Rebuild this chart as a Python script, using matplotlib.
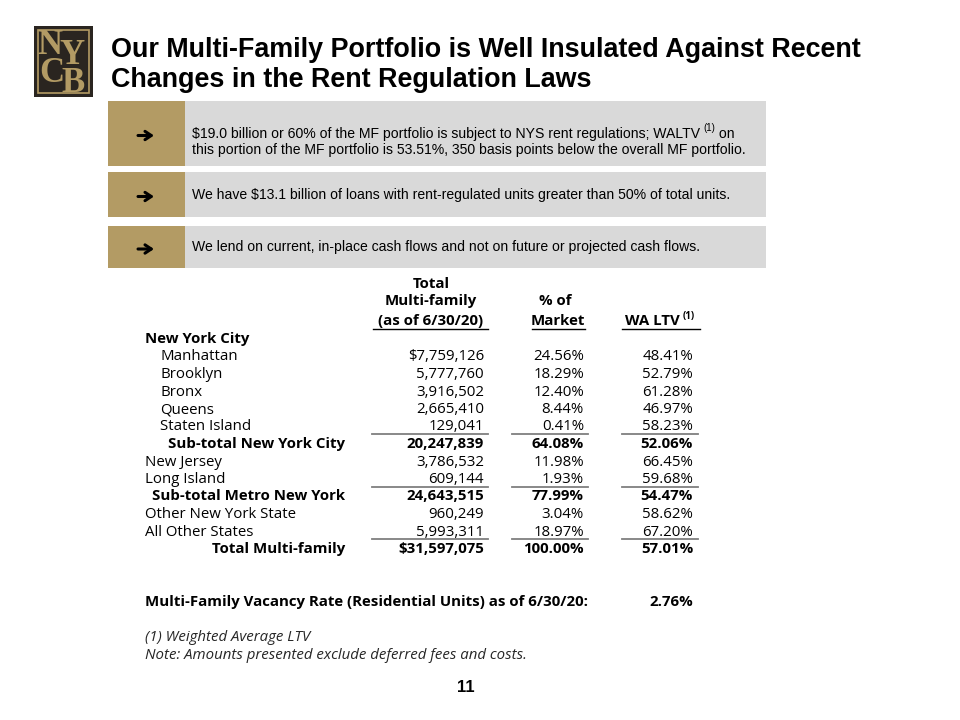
import matplotlib
matplotlib.use("Agg")
from matplotlib import pyplot as plt
from matplotlib.patches import Rectangle

# ---- data ----
bullets = [
    "We have $13.1 billion of loans with rent-regulated units greater than 50% of total units.",
    "We lend on current, in-place cash flows and not on future or projected cash flows.",
]
bullet1_a = "$19.0 billion or 60% of the MF portfolio is subject to NYS rent regulations; WALTV"
bullet1_b = "this portion of the MF portfolio is 53.51%, 350 basis points below the overall MF portfolio."

regions = ["New York City", "Manhattan", "Brooklyn", "Bronx", "Queens", "Staten Island",
           "Sub-total New York City", "New Jersey", "Long Island", "Sub-total Metro New York",
           "Other New York State", "All Other States", "Total Multi-family"]
amounts = [None, 7759126, 5777760, 3916502, 2665410, 129041,
           20247839, 3786532, 609144, 24643515, 960249, 5993311, 31597075]
pct_market = [None, 24.56, 18.29, 12.40, 8.44, 0.41,
              64.08, 11.98, 1.93, 77.99, 3.04, 18.97, 100.00]
wa_ltv = [None, 48.41, 52.79, 61.28, 46.97, 58.23,
          52.06, 66.45, 59.68, 54.47, 58.62, 67.20, 57.01]
# row kind: h = heading, i = indented, s = subtotal, n = normal
row_kind = ["h", "i", "i", "i", "i", "i", "s", "n", "n", "s", "n", "n", "s"]
dollar_rows = ["Manhattan", "Total Multi-family"]
vacancy_rate = 2.76

gold = "#B39B64"
grey = "#D9D9D9"
dark = "#2A2520"
tf = "Open Sans"
af = "Liberation Sans"

fig = plt.figure(figsize=(9.6, 7.2), dpi=100)
ax = fig.add_axes([0, 0, 1, 1])
ax.set_xlim(0, 960)
ax.set_ylim(720, 0)
ax.axis("off")

# logo
ax.add_patch(Rectangle((34, 26), 59, 71, facecolor=dark, edgecolor="none"))
ax.add_patch(Rectangle((38, 30), 51, 63, facecolor="none", edgecolor=gold, lw=1.2))
for ch, (lx, ly) in zip("NYCB", [(50, 45), (72, 56), (52, 73), (73, 84)]):
    ax.text(lx, ly, ch, fontsize=25, family="Liberation Serif", fontweight="bold",
            color=gold, ha="center", va="center")

# title
ax.text(111, 50, "Our Multi-Family Portfolio is Well Insulated Against Recent",
        fontsize=19.4, fontweight="bold", family=af, va="center")
ax.text(111, 80, "Changes in the Rent Regulation Laws",
        fontsize=19.4, fontweight="bold", family=af, va="center")

# bullet boxes
boxes = [(101, 166), (172, 217), (226, 268)]
for top, bot in boxes:
    ax.add_patch(Rectangle((108, top), 77, bot - top, facecolor=gold, edgecolor="none"))
    ax.add_patch(Rectangle((185, top), 581, bot - top, facecolor=grey, edgecolor="none"))
    ay = (top + bot) / 2 + 2
    ax.annotate("", xy=(154, ay), xytext=(138, ay),
                arrowprops=dict(arrowstyle="->,head_length=0.45,head_width=0.3",
                                lw=2.2, color="black", shrinkA=0, shrinkB=0))

bfs = 10.1
t1 = ax.text(192, 141, bullet1_a, fontsize=bfs, family=af, va="bottom")
sup = ax.annotate("(1)", xy=(1, 0.55), xycoords=t1, xytext=(2, 0), textcoords="offset points",
                  fontsize=7, family=af, va="bottom")
ax.annotate(" on", xy=(1, 0), xycoords=(sup, t1), fontsize=bfs, family=af, va="bottom")
ax.text(192, 150, bullet1_b, fontsize=bfs, family=af, va="center")
for (top, bot), txt in zip(boxes[1:], bullets):
    ax.text(192, (top + bot) / 2, txt, fontsize=bfs, family=af, va="center")

# table header
fs = 10.8
off = 5  # baseline below row centre
c1, c2, c3 = 484, 584, 693
ax.text(431, 283 + off, "Total", fontsize=fs, family=tf, fontweight="bold", ha="center", va="baseline")
ax.text(431, 300 + off, "Multi-family", fontsize=fs, family=tf, fontweight="bold", ha="center", va="baseline")
ax.text(431, 320 + off, "(as of 6/30/20)", fontsize=fs, family=tf, fontweight="bold", ha="center", va="baseline")
ax.text(555, 300 + off, "% of", fontsize=fs, family=tf, fontweight="bold", ha="center", va="baseline")
ax.text(558, 320 + off, "Market", fontsize=fs, family=tf, fontweight="bold", ha="center", va="baseline")
wl = ax.text(c3 - 13, 320 + off, "WA LTV", fontsize=fs, family=tf, fontweight="bold", ha="right", va="baseline")
ax.annotate("(1)", xy=(1, 0.8), xycoords=wl, xytext=(2, 0), textcoords="offset points",
            fontsize=7, family=tf, fontweight="bold", va="center")
for x0, x1 in [(373, 488), (532, 585), (622, 700)]:
    ax.plot([x0, x1], [328.5, 328.5], color="black", lw=1)

# table body
y0, dy = 338, 17.5
for i, name in enumerate(regions):
    y = y0 + i * dy + off
    kind = row_kind[i]
    bold = "bold" if kind in ("h", "s") else "normal"
    if kind == "s":
        ax.text(345, y, name, fontsize=fs, family=tf, fontweight=bold, ha="right", va="baseline")
    else:
        x = 160 if kind == "i" else 145
        ax.text(x, y, name, fontsize=fs, family=tf, fontweight=bold, ha="left", va="baseline")
    if amounts[i] is None:
        continue
    amt = "{:,}".format(amounts[i])
    if name in dollar_rows:
        amt = "$" + amt
    ax.text(c1, y, amt, fontsize=fs, family=tf, fontweight=bold, ha="right", va="baseline")
    ax.text(c2, y, "{:.2f}%".format(pct_market[i]), fontsize=fs, family=tf, fontweight=bold,
            ha="right", va="baseline")
    ax.text(c3, y, "{:.2f}%".format(wa_ltv[i]), fontsize=fs, family=tf, fontweight=bold,
            ha="right", va="baseline")
    if i + 1 < len(regions) and row_kind[i + 1] == "s":
        ly = y0 + i * dy + dy / 2
        for x0, x1 in [(372, 488), (512, 588), (622, 698)]:
            ax.plot([x0, x1], [ly, ly], color="#7F7F7F", lw=1.3)

# vacancy rate
ax.text(145, 601 + off, "Multi-Family Vacancy Rate (Residential Units) as of 6/30/20:", fontsize=fs,
        family=tf, fontweight="bold", va="baseline")
ax.text(c3, 601 + off, "{:.2f}%".format(vacancy_rate), fontsize=fs, family=tf, fontweight="bold",
        ha="right", va="baseline")

# footnotes
ax.text(145, 636 + off, "(1) Weighted Average LTV", fontsize=fs, family=tf, style="italic",
        color="#262626", va="baseline")
ax.text(145, 654 + off, "Note: Amounts presented exclude deferred fees and costs.", fontsize=fs,
        family=tf, style="italic", color="#262626", va="baseline")

ax.text(466, 687, "11", fontsize=12, fontweight="bold", family=af, ha="center", va="center")

fig.savefig("out.png", dpi=100)
